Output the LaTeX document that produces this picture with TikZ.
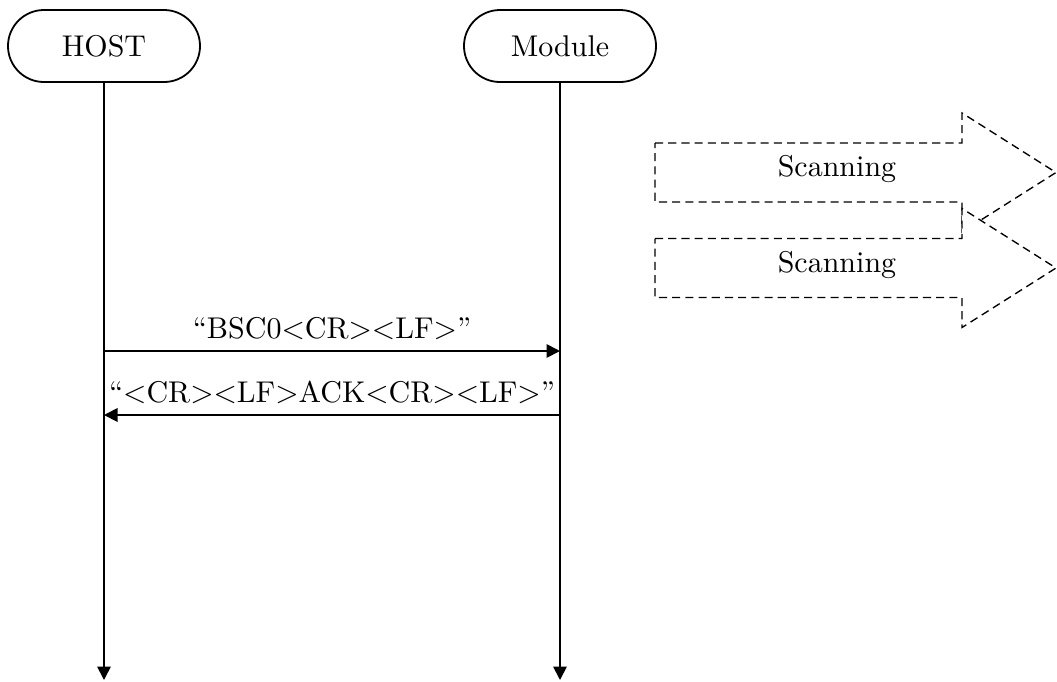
\documentclass[tikz,border=0pt]{standalone}
\usetikzlibrary{arrows.meta}
\tikzset{
  actor/.style={draw, line width=0.6pt, rounded corners=12pt, minimum width=64pt, minimum height=24pt},
  msg/.style={line width=0.6pt, -{Triangle[length=4.5pt,width=4.5pt]}},
  scanarrow/.style={draw, fill=white, line width=0.45pt, dash pattern=on 2.7pt off 1.7pt},
}
\begin{document}
\begin{tikzpicture}[x=0.3333pt,y=-0.3333pt]
  \useasboundingbox (0,0) rectangle (1057,681);
  \node[actor] (host) at (104,46) {HOST};
  \node[actor] (module) at (560,46) {Module};
  \coordinate (hostend) at (104,680);
  \coordinate (moduleend) at (560,680);
  \draw[msg] (host)--(hostend);
  \draw[msg] (module)--(moduleend);
  \coordinate (h1) at (104,351);
  \coordinate (m1) at (560,351);
  \coordinate (h2) at (104,415);
  \coordinate (m2) at (560,415);
  \draw[msg] (h1)--(m1) node[midway,above]{\textquotedblleft BSC0\textless CR\textgreater\textless LF\textgreater\textquotedblright};
  \draw[msg] (m2)--(h2) node[midway,above]{\textquotedblleft\textless CR\textgreater\textless LF\textgreater ACK\textless CR\textgreater\textless LF\textgreater\textquotedblright};
  \foreach \y/\n in {172.5/a,268/b}{
    \path[scanarrow] (655,\y-29.5)--(962,\y-29.5)--(962,\y-59.5)--(1056,\y)
      --(962,\y+59.5)--(962,\y+29.5)--(655,\y+29.5)--cycle;
    \node (scan\n) at (837,\y-3) {Scanning};
  }
\end{tikzpicture}
\end{document}
